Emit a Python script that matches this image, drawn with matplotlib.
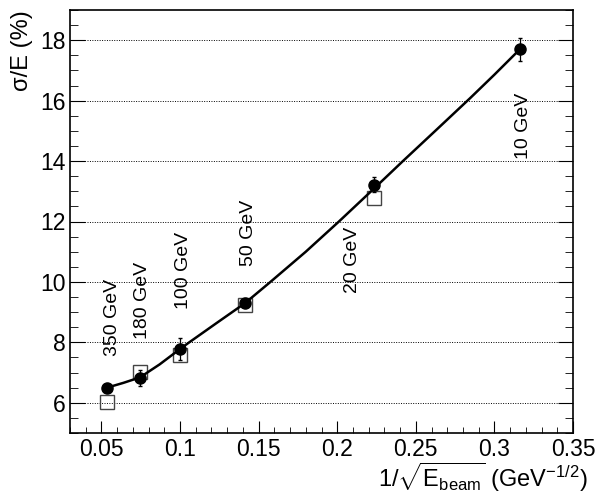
import matplotlib
matplotlib.use("Agg")
import matplotlib.pyplot as plt
from matplotlib.ticker import MultipleLocator

plt.rcParams['font.family'] = ['Liberation Sans', 'DejaVu Sans']
plt.rcParams['mathtext.fontset'] = 'custom'
plt.rcParams['mathtext.rm'] = 'Liberation Sans'
plt.rcParams['mathtext.it'] = 'Liberation Sans'
plt.rcParams['mathtext.bf'] = 'Liberation Sans:bold'

# Data
energies = ["350 GeV", "180 GeV", "100 GeV", "50 GeV", "20 GeV", "10 GeV"]
x_pts = [0.0535, 0.0745, 0.1000, 0.1414, 0.2236, 0.3162]
res_filled = [6.5, 6.82, 7.78, 9.3, 13.22, 17.7]
res_filled_err = [0.12, 0.25, 0.35, 0.12, 0.25, 0.38]
x_open = [0.0535, 0.0745, 0.1000, 0.1414, 0.2236]
res_open = [6.03, 7.03, 7.59, 9.25, 12.78]

curve_x = [0.0535, 0.0640, 0.0745, 0.0870, 0.1000, 0.1053, 0.1230, 0.1414,
           0.1575, 0.1800, 0.2011, 0.2236, 0.2416, 0.2630, 0.2845, 0.3000, 0.3162]
curve_y = [6.50, 6.66, 6.84, 7.27, 7.78, 7.98, 8.63, 9.30,
           10.00, 11.00, 12.00, 13.10, 13.99, 15.03, 16.08, 16.86, 17.70]

label_x = [0.0572, 0.0764, 0.1019, 0.1434, 0.2098, 0.3184]
label_y = [8.82, 9.38, 10.38, 11.63, 10.74, 15.18]

fig = plt.figure(figsize=(5.97, 4.95), dpi=100)
ax = fig.add_axes([70/597, 1-433/495, 503/597, 423/495])

ax.set_xlim(0.03, 0.35)
ax.set_ylim(5, 19)

for yv in range(6, 19, 2):
    ax.axhline(yv, color='black', lw=0.7, ls=(0, (1, 1.5)), zorder=1)

ax.plot(curve_x, curve_y, color='black', lw=1.8, zorder=3)
ax.errorbar(x_pts, res_filled, yerr=res_filled_err, fmt='o', color='black',
            ms=8, elinewidth=0.9, capsize=1.5, zorder=4)
ax.plot(x_open, res_open, 's', mfc='none', mec='#444444', mew=1.0, ms=10, zorder=2)

for t, xx, yy in zip(energies, label_x, label_y):
    ax.text(xx, yy, t, rotation=90, ha='center', va='center', fontsize=14)

ax.xaxis.set_major_locator(MultipleLocator(0.05))
ax.xaxis.set_minor_locator(MultipleLocator(0.01))
ax.yaxis.set_major_locator(MultipleLocator(2))
ax.yaxis.set_minor_locator(MultipleLocator(0.5))
ax.set_xticks([0.05, 0.1, 0.15, 0.2, 0.25, 0.3, 0.35])
ax.set_xticklabels(['0.05', '0.1', '0.15', '0.2', '0.25', '0.3', '0.35'])
ax.tick_params(axis='both', which='both', direction='in', labelsize=16.5,
               right=True, top=False)
ax.tick_params(axis='x', which='major', length=9, pad=3.5)
ax.tick_params(axis='x', which='minor', length=4.5)
ax.tick_params(axis='y', which='major', length=11, pad=3)
ax.tick_params(axis='y', which='minor', length=5.5)
for s in ax.spines.values():
    s.set_linewidth(1.2)

fig.text(22/597, 1-10/495, 'σ/E (%)', rotation=90, ha='center', va='top', fontsize=17)
fig.text(588/597, 1-477/495, r'1/$\sqrt{\mathrm{E}_{\mathrm{beam}}}$ (GeV$^{\mathrm{-1/2}}$)',
         ha='right', va='center', fontsize=17)

fig.savefig('out.png', dpi=100)
